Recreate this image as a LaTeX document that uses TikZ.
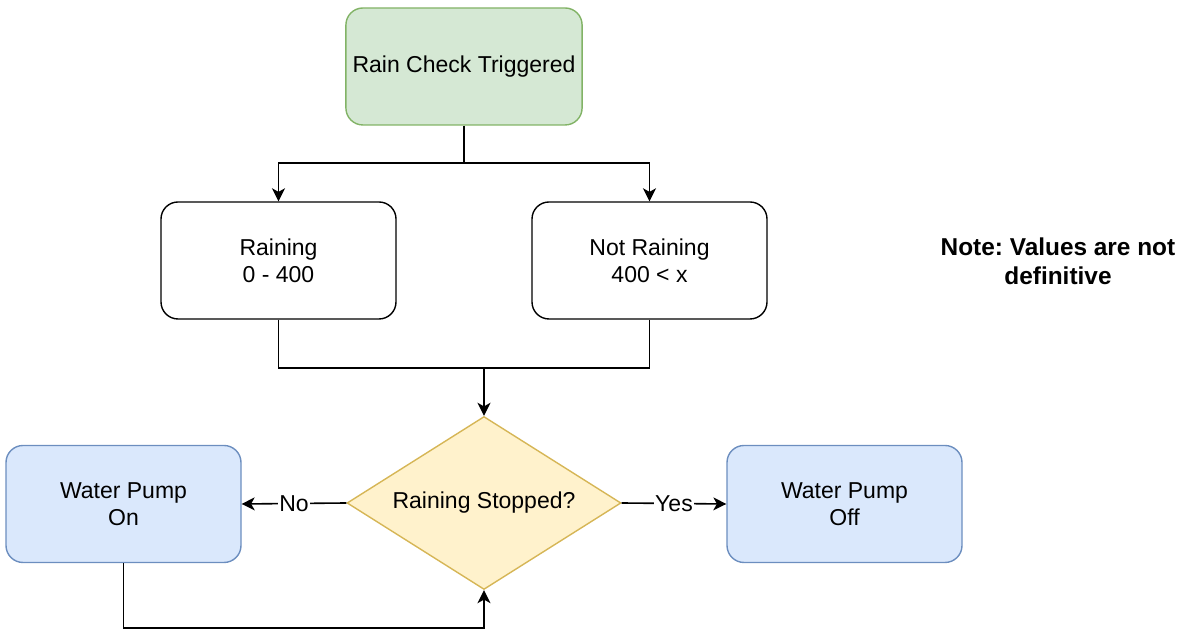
\documentclass[tikz,border=0pt]{standalone}
\usepackage{fontspec}
\setmainfont{Liberation Sans}
\usetikzlibrary{arrows.meta,shapes.geometric}
\definecolor{startfill}{HTML}{D5E8D4}
\definecolor{startline}{HTML}{82B366}
\definecolor{pumpfill}{HTML}{DAE8FC}
\definecolor{pumpline}{HTML}{6C8EBF}
\definecolor{askfill}{HTML}{FFF2CC}
\definecolor{askline}{HTML}{D6B656}
\frenchspacing

\begin{document}
\begin{tikzpicture}[x=1pt,y=1pt]
		\tikzstyle{rect} = [rectangle, rounded corners=8.5pt, minimum width=117.5pt, minimum height=58.5pt, text centered, align=center, draw=black, line width=0.7pt, font=\fontsize{11.5}{13.5}\selectfont]
		\tikzstyle{startbox} = [rect, fill=startfill, draw=startline]
		\tikzstyle{pumpbox} = [rect, fill=pumpfill, draw=pumpline]
		\tikzstyle{askbox} = [diamond, aspect=1.58, inner sep=0pt, minimum width=137pt, minimum height=86.5pt, fill=askfill, draw=askline, line width=0.7pt, font=\fontsize{11.5}{13.5}\selectfont]
		\tikzstyle{arrow} = [line width=0.8pt,->,>={Stealth[length=6.5pt,width=6.5pt,inset=1.8pt]}]
		\tikzstyle{line} = [line width=0.8pt]
		\tikzstyle{lbl} = [fill=white, inner sep=0.5pt, font=\fontsize{11.5}{13.5}\selectfont]
		\useasboundingbox (0,0) rectangle (597,315);
		\node (check) [startbox] at (232,281.75) {Rain Check Triggered};
		\node (raining) [rect] at (139.25,184.75) {Raining\\0 - 400};
		\node (notrain) [rect] at (324.75,184.75) {Not Raining\\400 < x};
		\node (stopped) [askbox] at (242,63.5) {Raining Stopped?};
		\node (pumpon) [pumpbox] at (61.75,63) {Water Pump\\On};
		\node (pumpoff) [pumpbox] at (422.25,63) {Water Pump\\Off};
		\node (note) [align=center, font=\bfseries\fontsize{12.2}{14.5}\selectfont] at (529,184.5) {Note: Values are not\\definitive};
		\coordinate (split) at (232,233.5);
		\coordinate (join) at (242,131);
		\coordinate (back) at (242,1);
		% fan out
		\draw[line] (check.south) -- (split);
		\draw[arrow] (split) -| (raining.north);
		\draw[arrow] (split) -| (notrain.north);
		% merge
		\draw[line] (raining.south) |- (join);
		\draw[line] (notrain.south) |- (join);
		\draw[arrow] (join) -- (stopped.north);
		% decision
		\draw[arrow] (stopped.west) -- node[lbl] {No} (pumpon.east);
		\draw[arrow] (stopped.east) -- node[lbl] {Yes} (pumpoff.west);
		\draw[arrow] (pumpon.south) |- (back) -- (stopped.south);
	\end{tikzpicture}
\end{document}
